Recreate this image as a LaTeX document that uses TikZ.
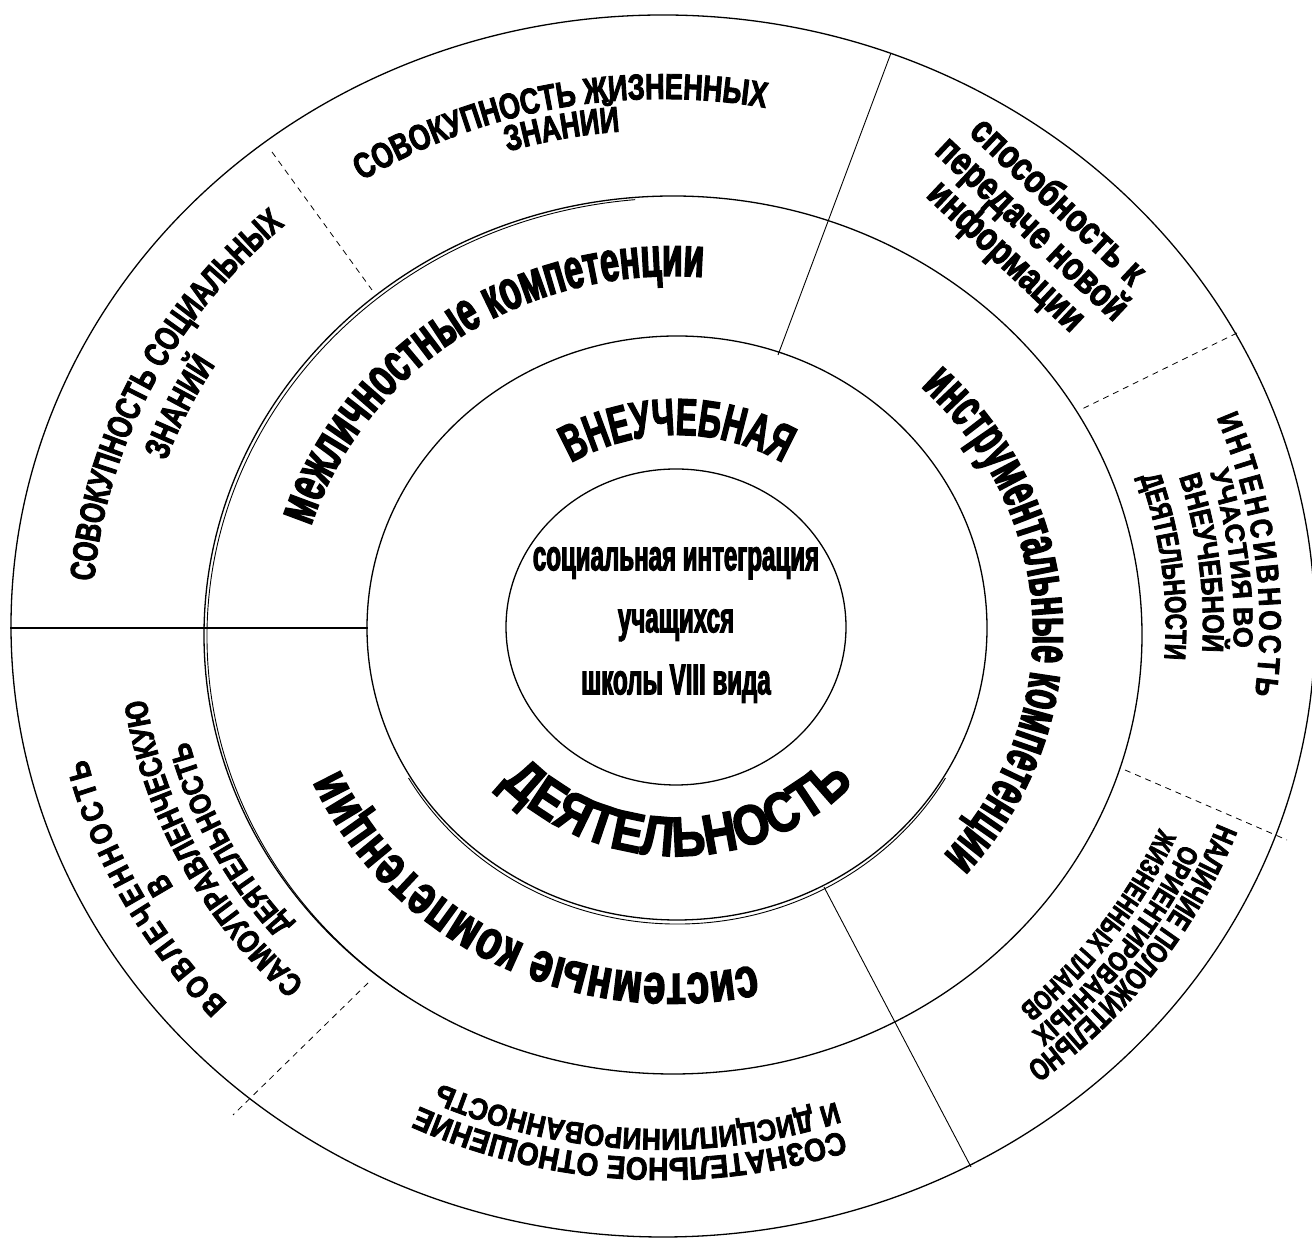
\documentclass[tikz,border=0pt]{standalone}
\usepackage{fontspec}
\setmainfont{Liberation Sans}
\usetikzlibrary{decorations.text}
\newcommand\ff[2]{\fontsize{#1}{#1}\selectfont\bfseries\addfontfeature{FakeStretch=#2,FakeBold=2.5}}
% #1 centre, #2 mid angle, #3 baseline y radius, #4 aspect, #5 direction (1 cw, -1 ccw), #6 format, #7 text
\newcommand\arctext[7]{%
  \pgfmathsetmacro\atS{#2+#5*75}%
  \pgfmathsetmacro\atE{#2-#5*75}%
  \pgfmathsetmacro\atRX{#4*#3}%
  \path[decorate,decoration={text along path,text align=center,text={|#6|#7}}]
    (#1) ++(\atS:\atRX pt and #3 pt) arc[start angle=\atS,end angle=\atE,x radius=\atRX pt,y radius=#3 pt];
}
\tikzset{
  ring/.style={line width=1.3pt},
  ringdbl/.style={line width=0.9pt},
  divider/.style={line width=0.9pt},
  dashdiv/.style={line width=0.8pt,dash pattern=on 6pt off 5pt},
}
\def\fVn{\ff{52}{0.61}}
\def\fDe{\ff{56}{0.84}}
\def\fMid{\ff{56}{0.6}}
\def\fIns{\ff{56}{0.57}}
\def\fSys{\ff{56}{0.72}}
\def\fG{\ff{36}{0.75}}
\def\fI{\ff{35}{0.73}}
\def\fMa{\ff{31}{0.84}}
\def\fSp{\ff{16}{0.84}}
\def\fMb{\ff{27}{1.0}}
\def\fMc{\ff{30}{0.84}}
\def\fMd{\ff{30}{0.74}}
\def\fLa{\ff{31}{0.72}}
\def\fLb{\ff{28}{0.8}}
\def\fLc{\ff{28}{0.72}}
\def\fKa{\ff{32}{0.88}}
\def\fKb{\ff{30}{0.88}}
\def\fJa{\ff{31}{0.84}}
\def\fJb{\ff{33}{0.75}}
\def\fJc{\ff{32}{0.8}}
\def\fJd{\ff{30}{0.85}}
\begin{document}
\begin{tikzpicture}[x=1pt,y=1pt]
\useasboundingbox (0,0) rectangle (1312,1239);
\coordinate (Co) at (663,613);
\coordinate (Cm) at (673,604);
\coordinate (Ci) at (677,611);
\coordinate (Cc) at (676,612);
\coordinate (Tm) at (673,607);
% rings
\draw[ring] (Co) ellipse[x radius=652, y radius=611];
\draw[ring] (Cm) ellipse[x radius=469, y radius=439];
\draw[ringdbl] ([shift={(3,-2)}]Cm) ++(95:469 and 439) arc[start angle=95,end angle=235,x radius=469,y radius=439];
\draw[ring] (Ci) ellipse[x radius=310, y radius=292];
\draw[ringdbl] ([shift={(0,-4)}]Ci) ++(-150:310 and 292) arc[start angle=-150,end angle=-30,x radius=310,y radius=292];
\draw[ring] (Cc) ellipse[x radius=170, y radius=158];
% dividers
\coordinate (h1) at (10,611);   \coordinate (h2) at (368,611);
\coordinate (a1) at (891,1186); \coordinate (a2) at (778,884);
\coordinate (b1) at (824,352);  \coordinate (b2) at (971,72);
\coordinate (d1) at (272,1087); \coordinate (d2) at (372,949);
\coordinate (e1) at (1237,906); \coordinate (e2) at (1080,829);
\coordinate (f1) at (1125,469); \coordinate (f2) at (1287,399);
\coordinate (g1) at (368,256);  \coordinate (g2) at (233,124);
\draw[divider,line width=1.2pt] (h1) -- (h2);
\draw[divider] (a1) -- (a2);
\draw[divider] (b1) -- (b2);
\draw[dashdiv] (d1) -- (d2);
\draw[dashdiv] (e1) -- (e2);
\draw[dashdiv] (f1) -- (f2);
\draw[dashdiv] (g1) -- (g2);
% centre
\node[font=\fontsize{43}{62}\selectfont\bfseries\addfontfeature{FakeStretch=0.56,FakeBold=2.5},align=center,inner sep=0pt] (ctr) at (676,614) {социальная интеграция\\учащихся\\школы VIII вида};
% inner ring
\arctext{Ci}{90}{193}{1.06}{1}{\fVn}{ВНЕУЧЕБНАЯ}
\arctext{Ci}{-90}{228}{1.06}{-1}{\fDe}{ДЕЯТЕЛЬНОСТЬ}
% middle ring
\arctext{Tm}{125}{356}{1.065}{1}{\fMid}{межличностные компетенции}
\arctext{Tm}{2.5}{338}{1.065}{1}{\fIns}{инструментальные компетенции}
\arctext{Tm}{-117.5}{342}{1.065}{1}{\fSys}{системные компетенции}
% outer ring
\arctext{Co}{101.5}{527}{1.067}{1}{\fG}{СОВОКУПНОСТЬ ЖИЗНЕННЫХ}
\arctext{Co}{101.5}{496}{1.067}{1}{\fG}{ЗНАНИЙ}
\arctext{Co}{154.5}{535}{1.067}{1}{\fI}{СОВОКУПНОСТЬ СОЦИАЛЬНЫХ}
\arctext{Co}{155.6}{494}{1.067}{1}{\fI}{ЗНАНИЙ}
\arctext{Co}{7}{559}{1.067}{1}{\fMa}{И|\fSp| |\fMa|Н|\fSp| |\fMa|Т|\fSp| |\fMa|Е|\fSp| |\fMa|Н|\fSp| |\fMa|С|\fSp| |\fMa|И|\fSp| |\fMa|В|\fSp| |\fMa|Н|\fSp| |\fMa|О|\fSp| |\fMa|С|\fSp| |\fMa|Т|\fSp| |\fMa|Ь}
\arctext{Co}{6.8}{535}{1.067}{1}{\fMb}{УЧАСТИЯ ВО}
\arctext{Co}{6.7}{506}{1.067}{1}{\fMc}{ВНЕУЧЕБНОЙ}
\arctext{Co}{6.8}{471}{1.067}{1}{\fMd}{ДЕЯТЕЛЬНОСТИ}
\arctext{Co}{-35}{556}{1.067}{1}{\fLa}{НАЛИЧИЕ ПОЛОЖИТЕЛЬНО}
\arctext{Co}{-35.3}{533}{1.067}{1}{\fLb}{ОРИЕНТИРОВАННЫХ}
\arctext{Co}{-34.6}{507}{1.067}{1}{\fLc}{ЖИЗНЕННЫХ ПЛАНОВ}
\arctext{Co}{-93.7}{532}{1.067}{1}{\fKa}{СОЗНАТЕЛЬНОЕ ОТНОШЕНИЕ}
\arctext{Co}{-93}{503}{1.067}{1}{\fKb}{И ДИСЦИПЛИНИРОВАННОСТЬ}
\arctext{Co}{207}{556}{1.067}{1}{\fJa}{В|\fSp| |\fJa|О|\fSp| |\fJa|В|\fSp| |\fJa|Л|\fSp| |\fJa|Е|\fSp| |\fJa|Ч|\fSp| |\fJa|Е|\fSp| |\fJa|Н|\fSp| |\fJa|Н|\fSp| |\fJa|О|\fSp| |\fJa|С|\fSp| |\fJa|Т|\fSp| |\fJa|Ь}
\arctext{Co}{207.3}{528}{1.067}{1}{\fJb}{В}
\arctext{Co}{206.4}{490}{1.067}{1}{\fJc}{САМОУПРАВЛЕНЧЕСКУЮ}
\arctext{Co}{206.3}{459}{1.067}{1}{\fJd}{ДЕЯТЕЛЬНОСТЬ}
% straight block
\node[font=\fontsize{40}{37.5}\selectfont\bfseries\addfontfeature{FakeStretch=0.78,FakeBold=2.5},align=center,rotate=-43.3,inner sep=0pt] (spo) at (1031,1009) {способность к\\передаче новой\\информации};
\end{tikzpicture}
\end{document}
